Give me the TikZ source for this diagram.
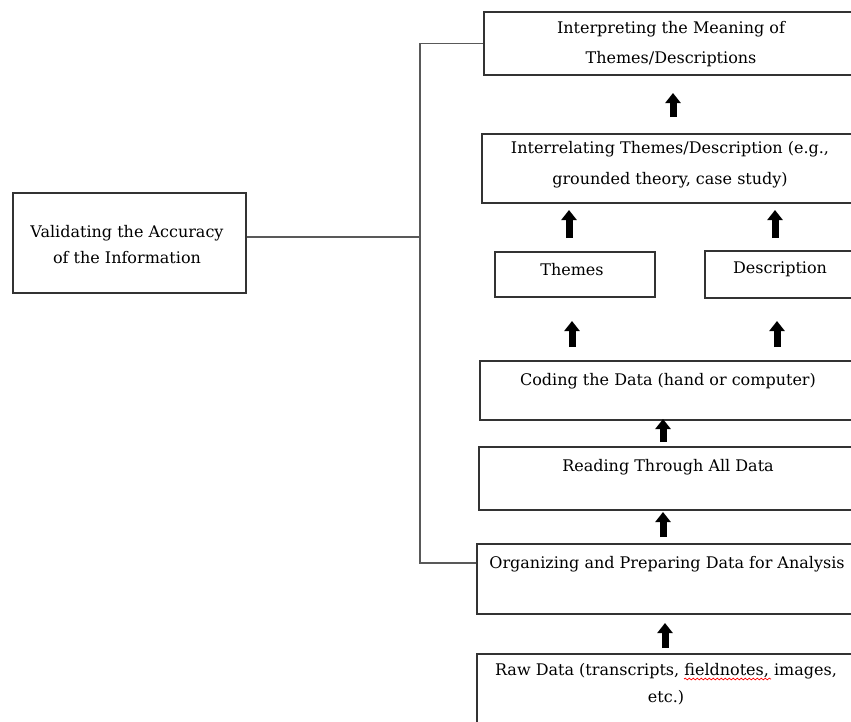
\documentclass[tikz,border=0pt]{standalone}
\usepackage{fontspec}
\setmainfont{DejaVu Serif}
\usetikzlibrary{arrows.meta,decorations.pathmorphing}
\begin{document}
\begin{tikzpicture}[x=1pt,y=-1pt,
  box/.style={draw=black!80, line width=1.6pt, inner sep=0pt, anchor=north west},
  txt/.style={inner sep=0pt, align=center, font=\fontsize{16}{28}\selectfont},
  upar/.style={line width=7pt, -{Triangle[width=15pt,length=10pt]}},
  link/.style={draw=black!65, line width=1.6pt}]
\useasboundingbox (0,0) rectangle (851,721);
\clip (0,0) rectangle (851,721);
\fill[white] (0,0) rectangle (851,721);

% boxes
\node[box, minimum width=377pt, minimum height=63pt] (interp) at (483,11) {};
\node[box, minimum width=379pt, minimum height=69pt] (interrel) at (481,133) {};
\node[box, minimum width=160pt, minimum height=45pt] (themes) at (494,251) {};
\node[box, minimum width=152pt, minimum height=47pt] (descr) at (704,250) {};
\node[box, minimum width=381pt, minimum height=59pt] (coding) at (479,360) {};
\node[box, minimum width=382pt, minimum height=63pt] (reading) at (478,446) {};
\node[box, minimum width=384pt, minimum height=70pt] (organ) at (476,543) {};
\node[box, minimum width=384pt, minimum height=90pt] (raw) at (476,653) {};
\node[box, minimum width=233pt, minimum height=100pt] (valid) at (12,192) {};

% texts
\node[txt, font=\fontsize{16}{30}\selectfont] (tinterp) at (671,44) {Interpreting the Meaning of\\Themes/Descriptions};
\node[txt, font=\fontsize{16}{31}\selectfont] (tinterrel) at (670,165) {Interrelating Themes/Description (e.g.,\\grounded theory, case study)};
\node[txt, anchor=base] (tthemes) at (572,275) {Themes};
\node[txt, anchor=base] (tdescr) at (780,273) {Description};
\node[txt, anchor=base] (tcoding) at (668,385) {Coding the Data (hand or computer)};
\node[txt, anchor=base] (treading) at (668,471) {Reading Through All Data};
\node[txt, anchor=base] (torgan) at (667,568) {Organizing and Preparing Data for Analysis};
\node[txt, font=\fontsize{16}{27}\selectfont] (traw) at (666,684) {Raw Data (transcripts, fieldnotes, images,\\etc.)};
\node[txt, font=\fontsize{16}{26}\selectfont] (tvalid) at (127,245) {Validating the Accuracy\\of the Information};

% bracket connectors
\coordinate (bj) at (420,563);
\coordinate (vj) at (420,237);
\draw[link] (interp.west) -| (bj) -- (bj -| organ.west);
\draw[link] (valid.east |- vj) -- (vj);

% arrows
\coordinate (a1s) at (673,117); \coordinate (a1e) at (673,93);
\coordinate (a2s) at (569,238); \coordinate (a2e) at (569,210);
\coordinate (a3s) at (775,238); \coordinate (a3e) at (775,210);
\coordinate (a4s) at (572,347); \coordinate (a4e) at (572,321);
\coordinate (a5s) at (777,347); \coordinate (a5e) at (777,321);
\coordinate (a6s) at (663,442); \coordinate (a6e) at (663,419);
\coordinate (a7s) at (663,537); \coordinate (a7e) at (663,512);
\coordinate (a8s) at (665,648); \coordinate (a8e) at (665,623);
\foreach \i in {1,...,8} \draw[upar] (a\i s) -- (a\i e);

% spell-check underline
\draw[red, line width=0.7pt, decorate, decoration={snake, amplitude=0.9pt, segment length=4pt}] (684,679) -- (771,679);
\end{tikzpicture}
\end{document}
